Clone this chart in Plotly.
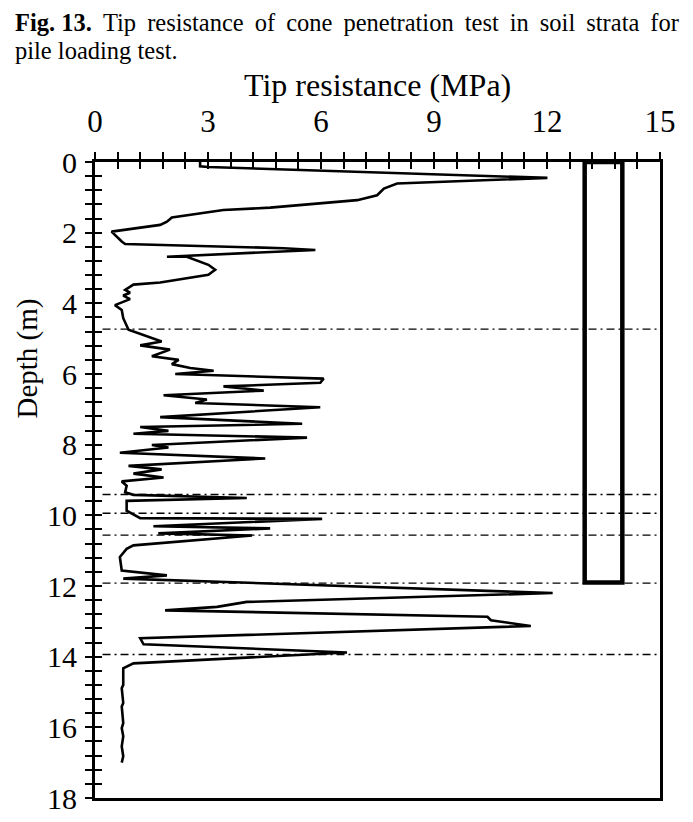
import plotly.graph_objects as go

# ---- data ----
tip_mpa = [2.79, 2.79, 3.00, 12.01, 8.02, 7.67, 7.49, 6.96, 4.65, 3.41, 2.04, 1.91, 1.73,
           0.44, 0.71, 0.80, 5.01, 5.85, 1.91, 2.44, 3.01, 3.19, 3.01, 1.73, 1.02, 0.80,
           0.93, 0.75, 0.93, 0.53, 0.71, 0.75, 0.89, 1.77, 1.20, 1.99, 1.51, 2.22, 2.04,
           2.53, 3.15, 2.13, 6.07, 5.98, 3.41, 4.48, 1.82, 2.97, 2.66, 5.98, 1.73, 5.50,
           1.20, 1.95, 1.02, 5.63, 1.51, 1.95, 0.66, 4.52, 0.89, 1.77, 1.02, 1.82, 0.71,
           0.84, 0.80, 1.02, 4.03, 0.84, 0.84, 1.20, 6.03, 1.55, 4.65, 1.68, 4.17, 1.02,
           0.84, 0.66, 0.71, 1.46, 1.91, 0.75, 12.15, 4.03, 3.24, 1.86, 10.42, 10.51, 11.57,
           1.20, 1.29, 6.69, 1.02, 0.75, 0.75, 0.71, 0.75, 0.71, 0.75, 0.71, 0.75, 0.71,
           0.75, 0.71, 0.89]
depth_m = [0.00, 0.12, 0.14, 0.45, 0.61, 0.75, 0.94, 1.08, 1.29, 1.36, 1.57, 1.69, 1.78,
           1.97, 2.25, 2.32, 2.44, 2.49, 2.68, 2.68, 2.91, 3.05, 3.19, 3.41, 3.47, 3.62,
           3.70, 3.78, 3.88, 4.05, 4.19, 4.42, 4.75, 5.08, 5.19, 5.31, 5.50, 5.60, 5.72,
           5.83, 5.91, 6.00, 6.13, 6.25, 6.35, 6.47, 6.60, 6.72, 6.82, 6.94, 7.22, 7.41,
           7.50, 7.61, 7.69, 7.80, 8.01, 8.08, 8.23, 8.39, 8.60, 8.70, 8.82, 8.93, 9.04,
           9.16, 9.35, 9.42, 9.51, 9.59, 9.87, 10.08, 10.10, 10.31, 10.37, 10.51, 10.57, 10.85,
           10.95, 11.18, 11.56, 11.65, 11.70, 11.79, 12.20, 12.45, 12.59, 12.69, 12.87, 12.97, 13.13,
           13.48, 13.65, 13.88, 14.19, 14.33, 14.80, 14.89, 15.31, 15.41, 15.88, 16.02, 16.25,
           16.54, 16.82, 17.00]

strata_depths = [4.73, 9.41, 9.94, 10.56, 11.92, 13.94]
strata_extent = [0.2, 15.0]

pile_x = [13.0, 13.0, 14.0, 14.0, 13.0]
pile_y = [0.0, 11.9, 11.9, 0.0, 0.0]

x_range = [0, 15]
y_range = [18, 0]
x_ticks = [0, 3, 6, 9, 12, 15]
y_ticks = [0, 2, 4, 6, 8, 10, 12, 14, 16, 18]

caption_words_1 = ["Tip", "resistance", "of", "cone", "penetration", "test", "in", "soil", "strata", "for"]
caption_bold = "Fig. 13."
caption_2 = "pile loading test."
x_title = "Tip resistance (MPa)"
y_title = "Depth (m)"

FONT = "Liberation Serif"

# the page body has an 8px default margin: size the figure so the page fits the window
OFF = 8
W, H = 693 - 2 * OFF, 822 - 2 * OFF
L, R, T, B = 95 - OFF, W + OFF - 660, 162 - OFF, H + OFF - 798
PW, PH = W - L - R, H - T - B


def px_x(px):  # page pixel -> paper x
    return (px - OFF - L) / PW


def px_y(py):  # page pixel -> paper y
    return 1 - (py - OFF - T) / PH


fig = go.Figure()

for d in strata_depths:
    fig.add_trace(go.Scatter(x=strata_extent, y=[d, d], mode="lines",
                             line=dict(color="black", width=1.4, dash="8px,4px,2px,4px"),
                             showlegend=False, hoverinfo="skip"))

fig.add_trace(go.Scatter(x=tip_mpa, y=depth_m, mode="lines",
                         line=dict(color="black", width=2.6), showlegend=False))

fig.add_trace(go.Scatter(x=pile_x, y=pile_y, mode="lines", xaxis="x2", yaxis="y2",
                         line=dict(color="black", width=4.5), showlegend=False))

axis_common = dict(showgrid=False, zeroline=False, tickcolor="black", tickwidth=2, ticklen=7,
                   automargin=False)

fig.update_layout(
    width=W, height=H,
    margin=dict(l=L, r=R, t=T, b=B, autoexpand=False),
    paper_bgcolor="white", plot_bgcolor="white",
    font=dict(family=FONT, color="black"),
    xaxis=dict(range=x_range, side="top", tickvals=x_ticks, ticks="outside",
               showline=True, linewidth=3, linecolor="black", mirror=True,
               minor=dict(dtick=0.6, tick0=0, ticks="outside", ticklen=7, tickwidth=2, tickcolor="black"),
               tickfont=dict(family=FONT, size=31, color="black"), ticklabelstandoff=8,
               ticklabeloverflow="allow",
               **axis_common),
    yaxis=dict(range=y_range, tickvals=y_ticks, ticks="outside",
               showline=True, linewidth=3, linecolor="black", mirror=True,
               minor=dict(dtick=0.4, tick0=0, ticks="outside", ticklen=7, tickwidth=2, tickcolor="black"),
               tickfont=dict(family=FONT, size=30, color="black"), ticklabelstandoff=2,
               ticklabeloverflow="allow",
               **axis_common),
    xaxis2=dict(range=x_range, side="top", overlaying="x", anchor="y2", tickvals=x_ticks,
                ticks="inside", showticklabels=False, showline=False,
                minor=dict(dtick=0.6, tick0=0, ticks="inside", ticklen=7, tickwidth=2, tickcolor="black"),
                **axis_common),
    yaxis2=dict(range=y_range, side="left", overlaying="y", anchor="x2", tickvals=y_ticks,
                ticks="inside", showticklabels=False, showline=False,
                minor=dict(dtick=0.4, tick0=0, ticks="inside", ticklen=7, tickwidth=2, tickcolor="black"),
                **axis_common),
)

# justified first caption line: a thin space widens each word gap
gap = " \u2009"
caption_1 = "<b>" + caption_bold + "</b>" + gap + gap.join(caption_words_1)

fig.add_annotation(text=caption_1, xref="paper", yref="paper", x=px_x(13), y=px_y(22),
                   xanchor="left", yanchor="middle", align="left", showarrow=False,
                   font=dict(family=FONT, size=24.5, color="black"))
fig.add_annotation(text=caption_2, xref="paper", yref="paper", x=px_x(13), y=px_y(50),
                   xanchor="left", yanchor="middle", align="left", showarrow=False,
                   font=dict(family=FONT, size=24.5, color="black"))
fig.add_annotation(text=x_title, xref="paper", yref="paper",
                   x=0.5, y=px_y(85), xanchor="center", yanchor="middle",
                   showarrow=False, font=dict(family=FONT, size=32, color="black"))
fig.add_annotation(text=y_title, xref="paper", yref="paper",
                   x=px_x(OFF), y=px_y(359), xanchor="left", yanchor="middle",
                   textangle=-90, showarrow=False, font=dict(family=FONT, size=29, color="black"))

fig.write_html("out.html")
